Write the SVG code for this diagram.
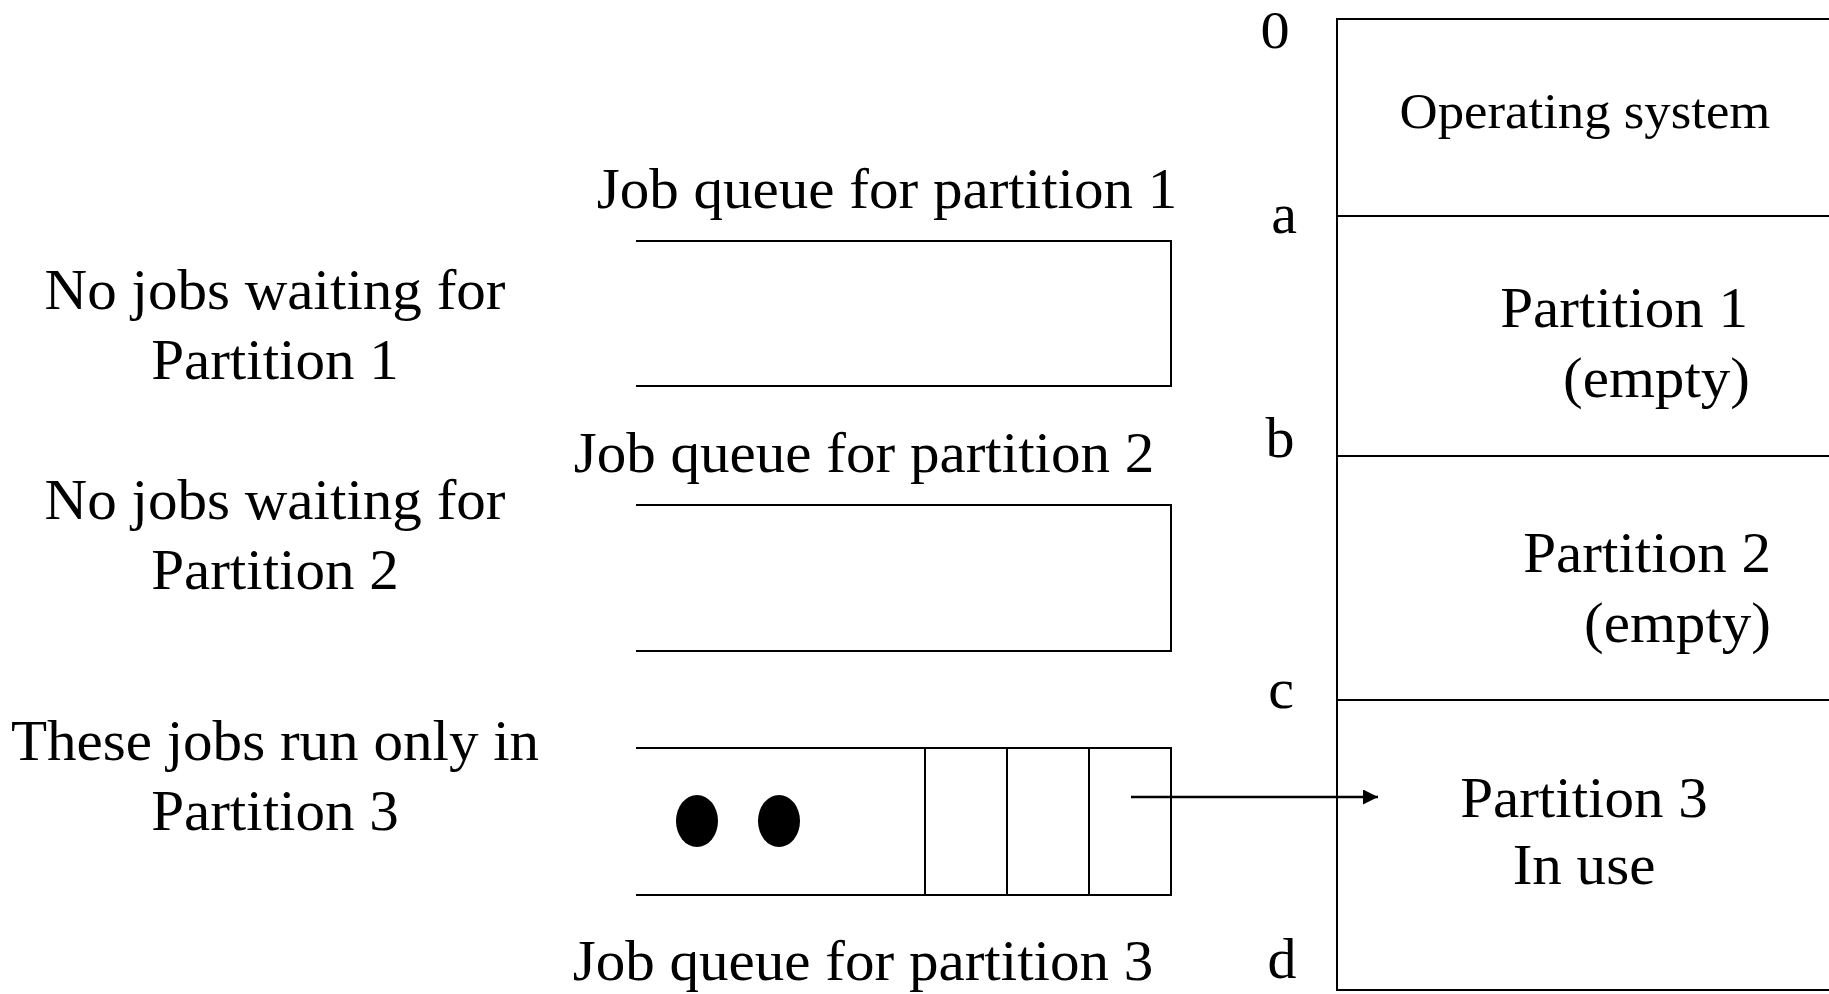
<svg xmlns="http://www.w3.org/2000/svg" width="1829" height="994" viewBox="0 0 1829 994">
<style>
text{font-family:"Liberation Serif","Times New Roman",serif;fill:#000;font-size:56px}
.lbl{font-size:58px}
.ln{stroke:#000;stroke-width:2;fill:none}
.mid{text-anchor:middle}
.end{text-anchor:end}
</style>
<defs>
<marker id="ah" markerWidth="15" markerHeight="15" refX="15" refY="7.5" orient="auto" markerUnits="userSpaceOnUse" viewBox="0 0 15 15">
<path d="M0,0 L15,7.5 L0,15 z" fill="#000"/>
</marker>
</defs>
<rect width="1829" height="994" fill="#fff"/>
<g id="memory">
<path class="ln" d="M1840,19 H1337 V990 H1840"/>
<line class="ln" x1="1337" y1="216" x2="1840" y2="216"/>
<line class="ln" x1="1337" y1="456" x2="1840" y2="456"/>
<line class="ln" x1="1337" y1="700" x2="1840" y2="700"/>
<text transform="translate(1275,48) scale(1.1,1)" class="mid" style="font-size:53px">0</text>
<text x="1284" y="233" class="mid lbl">a</text>
<text x="1280" y="457" class="mid lbl">b</text>
<text x="1281" y="708" class="mid lbl">c</text>
<text x="1282" y="978" class="mid lbl">d</text>
</g>
<g id="os"><text transform="translate(1585,128) scale(1.035,1)" class="mid" style="font-size:51px">Operating system</text></g>
<g id="part1"><text transform="translate(1748,327) scale(1.055,1)" class="end">Partition 1</text><text transform="translate(1750,397) scale(1.055,1)" class="end">(empty)</text></g>
<g id="part2"><text transform="translate(1771,572) scale(1.055,1)" class="end">Partition 2</text><text transform="translate(1771,642) scale(1.055,1)" class="end">(empty)</text></g>
<g id="part3"><text transform="translate(1584,817) scale(1.055,1)" class="mid">Partition 3</text><text transform="translate(1584,884) scale(1.055,1)" class="mid">In use</text></g>
<g id="queue1">
<text transform="translate(887,208) scale(1.055,1)" class="mid">Job queue for partition 1</text>
<path class="ln" d="M636,241 H1171 V386 H636"/>
</g>
<g id="queue2">
<text transform="translate(864,472) scale(1.055,1)" class="mid">Job queue for partition 2</text>
<path class="ln" d="M636,505 H1171 V651 H636"/>
</g>
<g id="queue3">
<path class="ln" d="M636,748 H1171 V895 H636"/>
<line class="ln" x1="925" y1="748" x2="925" y2="895"/>
<line class="ln" x1="1007" y1="748" x2="1007" y2="895"/>
<line class="ln" x1="1089" y1="748" x2="1089" y2="895"/>
<ellipse cx="697" cy="821" rx="21" ry="26" fill="#000"/>
<ellipse cx="779" cy="821" rx="21" ry="26" fill="#000"/>
<text transform="translate(863,980) scale(1.055,1)" class="mid">Job queue for partition 3</text>
</g>
<g id="label1"><text transform="translate(275,309) scale(1.055,1)" class="mid">No jobs waiting for</text><text transform="translate(275,379) scale(1.055,1)" class="mid">Partition 1</text></g>
<g id="label2"><text transform="translate(275,519) scale(1.055,1)" class="mid">No jobs waiting for</text><text transform="translate(275,589) scale(1.055,1)" class="mid">Partition 2</text></g>
<g id="label3"><text transform="translate(275,760) scale(1.055,1)" class="mid">These jobs run only in</text><text transform="translate(275,830) scale(1.055,1)" class="mid">Partition 3</text></g>
<g id="connectors">
<line x1="1131" y1="797" x2="1378" y2="797" stroke="#000" stroke-width="2.5" marker-end="url(#ah)"/>
</g>
</svg>
